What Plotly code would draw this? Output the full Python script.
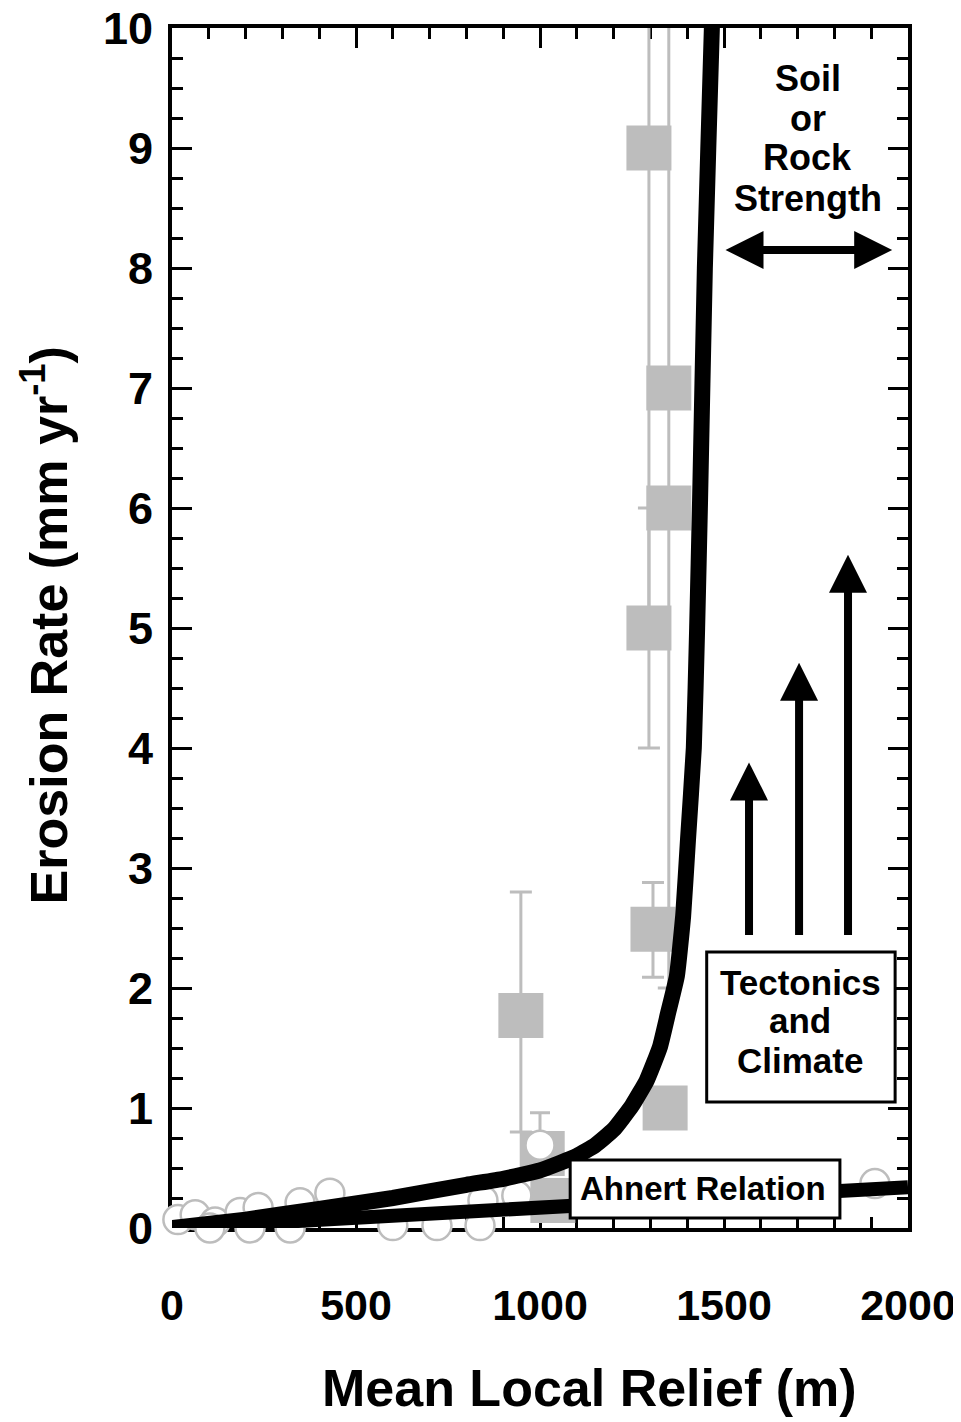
import plotly.graph_objects as go

# ---- data ----
# threshold hillslope curve (thick black)
curve_x = [0, 200, 400, 600, 800, 900, 1000, 1100, 1150, 1200, 1250, 1290, 1326, 1348, 1372,
           1389, 1402, 1418, 1427, 1435, 1448, 1467, 1472]
curve_y = [0, 0.07, 0.16, 0.25, 0.36, 0.41, 0.48, 0.60, 0.69, 0.82, 1.02, 1.23, 1.51, 1.79, 2.1,
           2.6, 3.23, 4.0, 5.0, 6.07, 8.0, 10.0, 10.5]

# Ahnert relation (linear)
ahnert_x = [0, 2000]
ahnert_y = [0, 0.34]

# gray squares with error bars
sq_x = [948, 1006, 1035, 1296, 1296, 1350, 1350, 1307, 1340]
sq_y = [1.77, 0.62, 0.23, 9.0, 5.0, 7.0, 6.0, 2.49, 1.0]
sq_err_plus = [1.03, 0, 0, 3.0, 1.0, 5.0, 0, 0.39, 0]
sq_err_minus = [0.97, 0, 0, 4.0, 1.0, 5.0, 0, 0.40, 0]

# open gray circles
ci_x = [16, 63, 117, 185, 234, 103, 212, 321, 348, 429, 420, 511, 600, 720, 837, 845, 937, 1000, 1910]
ci_y = [0.07, 0.11, 0.05, 0.13, 0.17, 0.0, 0.0, 0.0, 0.21, 0.29, -0.02, -0.03, 0.02, 0.02, 0.02, 0.23, 0.27, 0.69, 0.37]
ci_err_plus = [0, 0, 0, 0, 0, 0, 0, 0, 0, 0, 0, 0, 0, 0, 0, 0, 0, 0.27, 0]
ci_err_minus = [0, 0, 0, 0, 0, 0, 0, 0, 0, 0, 0, 0, 0, 0, 0, 0, 0, 0.2, 0]

x_ticks = [0, 500, 1000, 1500, 2000]
y_ticks = list(range(0, 11))

GRAY = "#bdbdbd"
FONT = "Liberation Sans, Arial, Helvetica, sans-serif"

fig = go.Figure()

fig.add_trace(go.Scatter(
    x=sq_x, y=sq_y, mode="markers",
    marker=dict(symbol="square", size=45, color=GRAY, line=dict(width=0)),
    error_y=dict(type="data", array=sq_err_plus, arrayminus=sq_err_minus,
                 color=GRAY, thickness=3, width=11),
    cliponaxis=False, showlegend=False))

fig.add_trace(go.Scatter(
    x=ci_x, y=ci_y, mode="markers",
    marker=dict(symbol="circle", size=29, color="white", line=dict(width=2.5, color=GRAY)),
    error_y=dict(type="data", array=ci_err_plus, arrayminus=ci_err_minus,
                 color=GRAY, thickness=3, width=10),
    cliponaxis=False, showlegend=False))

fig.add_trace(go.Scatter(
    x=ahnert_x, y=ahnert_y, mode="lines",
    line=dict(color="black", width=14), showlegend=False))

fig.add_trace(go.Scatter(
    x=curve_x, y=curve_y, mode="lines",
    line=dict(color="black", width=16, shape="spline", smoothing=0.4), showlegend=False))

# boxes for labels
fig.add_shape(type="rect", xref="x", yref="y", x0=1453, x1=1965, y0=1.05, y1=2.3,
              line=dict(color="black", width=3), fillcolor="white", layer="above")
fig.add_shape(type="rect", xref="x", yref="y", x0=1082, x1=1815, y0=0.083, y1=0.567,
              line=dict(color="black", width=3), fillcolor="white", layer="above")

ann = []
def txt(x, y, s, size=36):
    ann.append(dict(x=x, y=y, xref="x", yref="y", text="<b>" + s + "</b>", showarrow=False,
                    font=dict(family=FONT, size=size, color="black"),
                    xanchor="center", yanchor="middle"))

for yy, s in zip([9.58, 9.25, 8.92, 8.58], ["Soil", "or", "Rock", "Strength"]):
    txt(1728, yy, s)
for yy, s in zip([2.05, 1.73, 1.40], ["Tectonics", "and", "Climate"]):
    txt(1707, yy, s, 35)
txt(1443, 0.33, "Ahnert Relation", size=33)

# up arrows
for ax_, y0, y1 in [(1568, 2.43, 3.88), (1704, 2.43, 4.71), (1837, 2.43, 5.61)]:
    ann.append(dict(x=ax_, y=y1, ax=ax_, ay=y0, xref="x", yref="y", axref="x", ayref="y",
                    text="", showarrow=True, arrowhead=2, arrowsize=0.95, arrowwidth=8,
                    arrowcolor="black"))
# double arrow
ann.append(dict(x=1957, y=8.15, ax=1500, ay=8.15, xref="x", yref="y", axref="x", ayref="y",
                text="", showarrow=True, arrowhead=2, startarrowhead=2, arrowside="end+start",
                arrowsize=0.95, startarrowsize=0.95, arrowwidth=8, arrowcolor="black"))

# axis titles
ann.append(dict(x=0.567, y=-0.133, xref="paper", yref="paper", text="<b>Mean Local Relief (m)</b>",
                showarrow=False, font=dict(family=FONT, size=52, color="black"),
                xanchor="center", yanchor="middle"))
ann.append(dict(x=-0.172, y=0.5025, xref="paper", yref="paper",
                text="<b>Erosion Rate (mm yr<sup>-1</sup>)</b>", textangle=-90,
                showarrow=False, font=dict(family=FONT, size=52, color="black"),
                xanchor="center", yanchor="middle"))

# the page body has an 8px margin: shrink the figure and left/top margins accordingly
fig.update_layout(
    width=953, height=1414,
    margin=dict(l=164, r=53, t=20, b=194, autoexpand=False),
    paper_bgcolor="white", plot_bgcolor="white",
    annotations=ann,
    font=dict(family=FONT, color="black"),
)

fig.update_xaxes(
    range=[0, 2000], tickvals=x_ticks, ticktext=["<b>%d</b>" % v for v in x_ticks],
    ticks="inside", ticklen=20, tickwidth=3, tickcolor="black",
    minor=dict(dtick=100, ticks="inside", ticklen=11, tickwidth=3, tickcolor="black"),
    showline=True, linewidth=4, linecolor="black", mirror="allticks",
    showgrid=False, zeroline=False, layer="below traces", automargin=False,
    ticklabeloverflow="allow",
    tickfont=dict(family=FONT, size=43, color="black"), ticklabelstandoff=36)

fig.update_yaxes(
    range=[0, 10], tickvals=y_ticks, ticktext=["<b>%d</b>" % v for v in y_ticks],
    ticks="inside", ticklen=20, tickwidth=3, tickcolor="black",
    minor=dict(dtick=0.25, ticks="inside", ticklen=11, tickwidth=3, tickcolor="black"),
    showline=True, linewidth=4, linecolor="black", mirror="allticks",
    showgrid=False, zeroline=False, layer="below traces", automargin=False,
    ticklabeloverflow="allow",
    tickfont=dict(family=FONT, size=45, color="black"), ticklabelstandoff=6)

fig.write_html("out.html")
